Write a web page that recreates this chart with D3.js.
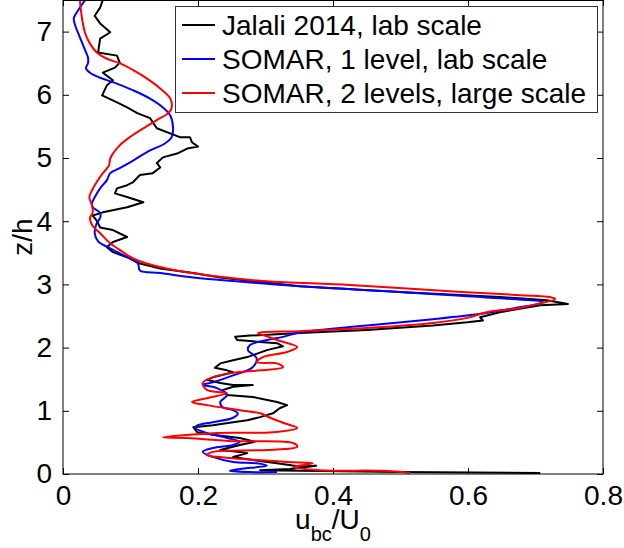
<!DOCTYPE html>
<html>
<head>
<meta charset="utf-8">
<script src="https://cdn.jsdelivr.net/npm/d3@7"></script>
<style>
  body { margin: 0; background: #fff; }
  svg text { font-family: "Liberation Sans", Arial, Helvetica, sans-serif; }
</style>
</head>
<body>
<div id="chart"></div>
<script>
// profiles as [u_bc/U0, z/h]
const jalali = [[0.059,7.50],[0.055,7.38],[0.047,7.25],[0.055,7.13],[0.070,6.99],[0.055,6.89],[0.052,6.67],[0.080,6.62],[0.084,6.51],[0.077,6.43],[0.059,6.35],[0.074,6.23],[0.065,6.15],[0.058,5.99],[0.080,5.88],[0.095,5.80],[0.110,5.71],[0.129,5.63],[0.139,5.47],[0.173,5.33],[0.188,5.33],[0.191,5.25],[0.200,5.18],[0.184,5.15],[0.169,5.07],[0.148,5.01],[0.139,4.92],[0.144,4.85],[0.133,4.76],[0.114,4.73],[0.104,4.62],[0.095,4.57],[0.080,4.52],[0.077,4.44],[0.096,4.38],[0.119,4.30],[0.095,4.22],[0.059,4.14],[0.044,4.09],[0.050,4.01],[0.055,3.90],[0.074,3.86],[0.095,3.75],[0.074,3.67],[0.065,3.59],[0.074,3.51],[0.095,3.43],[0.114,3.33],[0.144,3.25],[0.193,3.18],[0.233,3.11],[0.351,2.97],[0.499,2.88],[0.647,2.80],[0.717,2.75],[0.748,2.69],[0.707,2.67],[0.647,2.56],[0.618,2.48],[0.622,2.43],[0.599,2.40],[0.548,2.35],[0.450,2.28],[0.351,2.23],[0.277,2.19],[0.255,2.17],[0.258,2.12],[0.292,2.09],[0.317,2.07],[0.326,2.02],[0.302,1.96],[0.273,1.85],[0.252,1.80],[0.233,1.75],[0.225,1.68],[0.243,1.64],[0.252,1.61],[0.222,1.53],[0.213,1.49],[0.233,1.44],[0.252,1.41],[0.281,1.41],[0.252,1.38],[0.237,1.33],[0.243,1.25],[0.281,1.22],[0.317,1.14],[0.332,1.09],[0.321,1.04],[0.311,0.96],[0.292,0.90],[0.273,0.85],[0.252,0.82],[0.222,0.77],[0.193,0.74],[0.199,0.66],[0.222,0.62],[0.262,0.57],[0.284,0.51],[0.262,0.46],[0.233,0.38],[0.262,0.35],[0.273,0.33],[0.252,0.27],[0.281,0.22],[0.317,0.17],[0.351,0.12],[0.375,0.13],[0.336,0.08],[0.292,0.06],[0.351,0.05],[0.499,0.03],[0.707,0.015]];

const somar1 = [[0.033,7.50],[0.022,7.33],[0.016,7.21],[0.018,7.10],[0.025,6.91],[0.033,6.70],[0.037,6.59],[0.037,6.50],[0.034,6.42],[0.040,6.35],[0.055,6.27],[0.074,6.20],[0.104,6.07],[0.129,5.94],[0.148,5.80],[0.159,5.67],[0.163,5.48],[0.161,5.33],[0.151,5.23],[0.129,5.12],[0.104,4.96],[0.084,4.84],[0.070,4.76],[0.065,4.65],[0.055,4.52],[0.047,4.38],[0.043,4.28],[0.044,4.22],[0.055,4.13],[0.055,4.05],[0.050,3.97],[0.047,3.81],[0.052,3.68],[0.070,3.57],[0.095,3.43],[0.111,3.33],[0.114,3.22],[0.144,3.18],[0.193,3.11],[0.233,3.07],[0.351,2.97],[0.499,2.88],[0.647,2.78],[0.711,2.72],[0.707,2.70],[0.667,2.62],[0.622,2.54],[0.548,2.45],[0.450,2.35],[0.351,2.24],[0.326,2.17],[0.302,2.12],[0.277,2.04],[0.274,1.96],[0.287,1.83],[0.281,1.69],[0.252,1.56],[0.222,1.45],[0.207,1.41],[0.228,1.36],[0.243,1.25],[0.233,1.14],[0.236,1.06],[0.252,1.01],[0.259,0.96],[0.252,0.89],[0.222,0.82],[0.199,0.77],[0.196,0.73],[0.213,0.65],[0.243,0.57],[0.262,0.51],[0.252,0.46],[0.222,0.41],[0.207,0.35],[0.222,0.27],[0.252,0.19],[0.287,0.17],[0.302,0.13],[0.262,0.08],[0.247,0.05],[0.277,0.03],[0.317,0.03]];

const somar2 = [[0.025,7.50],[0.028,7.22],[0.033,6.97],[0.040,6.81],[0.050,6.67],[0.065,6.57],[0.084,6.50],[0.104,6.39],[0.124,6.26],[0.144,6.10],[0.159,5.94],[0.161,5.80],[0.156,5.71],[0.139,5.60],[0.119,5.47],[0.099,5.33],[0.084,5.20],[0.074,5.07],[0.070,4.99],[0.068,4.88],[0.059,4.76],[0.050,4.62],[0.043,4.49],[0.039,4.38],[0.043,4.25],[0.044,4.14],[0.040,4.05],[0.043,3.94],[0.055,3.81],[0.070,3.65],[0.089,3.51],[0.104,3.41],[0.124,3.33],[0.168,3.22],[0.233,3.12],[0.302,3.05],[0.425,2.99],[0.573,2.89],[0.677,2.83],[0.721,2.80],[0.729,2.77],[0.707,2.70],[0.673,2.62],[0.628,2.56],[0.599,2.47],[0.548,2.39],[0.450,2.31],[0.351,2.26],[0.289,2.23],[0.302,2.18],[0.317,2.12],[0.347,2.01],[0.332,1.93],[0.296,1.85],[0.287,1.77],[0.317,1.75],[0.326,1.69],[0.292,1.64],[0.252,1.60],[0.222,1.53],[0.207,1.44],[0.213,1.33],[0.243,1.28],[0.213,1.20],[0.191,1.14],[0.213,1.09],[0.262,1.01],[0.292,0.96],[0.307,0.89],[0.326,0.81],[0.347,0.73],[0.311,0.66],[0.228,0.65],[0.148,0.58],[0.184,0.57],[0.252,0.52],[0.341,0.49],[0.347,0.43],[0.302,0.38],[0.222,0.35],[0.213,0.30],[0.252,0.25],[0.332,0.19],[0.370,0.17],[0.341,0.11],[0.381,0.06],[0.474,0.05],[0.514,0.02]];

const seriesNames = ["Jalali 2014, lab scale", "SOMAR, 1 level, lab scale", "SOMAR, 2 levels, large scale"];
const seriesColors = ["#000000", "#0000ff", "#ff0000"];
const xTicks = [0, 0.2, 0.4, 0.6, 0.8];
const yTicks = [0, 1, 2, 3, 4, 5, 6, 7];

const W = 624, H = 548;
const margin = {top: 0, right: 21, bottom: 74, left: 63};
const width = W - margin.left - margin.right;   // 540
const height = H - margin.top - margin.bottom;  // 474

const svg = d3.select("#chart").append("svg")
    .attr("width", W)
    .attr("height", H);

const g = svg.append("g")
    .attr("transform", "translate(" + margin.left + "," + margin.top + ")");

const x = d3.scaleLinear().domain([0, 0.8]).range([0, width]);
const y = d3.scaleLinear().domain([0, 7.5]).range([height, 0]);

// clip the profiles to the axes box
g.append("clipPath").attr("id", "clip")
  .append("rect").attr("width", width).attr("height", height);

// axes, matlab style: ticks point inward on all four sides
const fmt = d => d === 0 ? "0" : d3.format(".1f")(d);
g.append("g")
    .attr("transform", "translate(0," + height + ")")
    .call(d3.axisBottom(x).tickValues(xTicks).tickFormat(fmt).tickSizeInner(-6).tickSizeOuter(0).tickPadding(11));
g.append("g")
    .call(d3.axisTop(x).tickValues(xTicks).tickFormat("").tickSizeInner(-6).tickSizeOuter(0));
g.append("g")
    .call(d3.axisLeft(y).tickValues(yTicks).tickSizeInner(-6).tickSizeOuter(0).tickPadding(11));
g.append("g")
    .attr("transform", "translate(" + width + ",0)")
    .call(d3.axisRight(y).tickValues(yTicks).tickFormat("").tickSizeInner(-6).tickSizeOuter(0));

g.selectAll(".tick text")
    .attr("font-size", 28)
    .attr("font-family", "Liberation Sans, Arial, sans-serif")
    .attr("fill", "#000");
g.selectAll(".domain").remove();
g.selectAll(".tick line").attr("stroke", "#000");

// the profiles: measured one jagged, simulated ones smooth
const lineSharp = d3.line()
    .x(d => x(d[0]))
    .y(d => y(d[1]));
const lineSmooth = d3.line()
    .curve(d3.curveCatmullRom.alpha(0.5))
    .x(d => x(d[0]))
    .y(d => y(d[1]));

[jalali, somar1, somar2].forEach((data, i) => {
    g.append("path")
        .datum(data)
        .attr("clip-path", "url(#clip)")
        .attr("fill", "none")
        .attr("stroke", seriesColors[i])
        .attr("stroke-width", 2)
        .attr("stroke-linejoin", "round")
        .attr("d", i === 0 ? lineSharp : lineSmooth);
});

// frame
g.append("rect")
    .attr("x", 0).attr("y", 0.5)
    .attr("width", width).attr("height", height - 0.5)
    .attr("fill", "none")
    .attr("stroke", "#000")
    .attr("stroke-width", 1);

// legend
const legend = g.append("g").attr("transform", "translate(" + (175 - margin.left) + ",6)");
legend.append("rect")
    .attr("x", 0.5).attr("y", 0.5)
    .attr("width", 422).attr("height", 106)
    .attr("fill", "#fff")
    .attr("stroke", "#333");
seriesNames.forEach((name, i) => {
    const ly = 19 + i * 34;
    legend.append("line")
        .attr("x1", 7).attr("x2", 40)
        .attr("y1", ly).attr("y2", ly)
        .attr("stroke", seriesColors[i])
        .attr("stroke-width", 2);
    legend.append("text")
        .attr("x", 47).attr("y", ly + 10)
        .attr("font-size", 28)
        .text(name);
});

// axis labels
svg.append("text")
    .attr("transform", "translate(32," + (margin.top + height / 2) + ") rotate(-90)")
    .attr("text-anchor", "middle")
    .attr("font-size", 28)
    .text("z/h");

const xl = svg.append("text")
    .attr("x", margin.left + width / 2)
    .attr("y", 529)
    .attr("text-anchor", "middle")
    .attr("font-size", 28);
xl.append("tspan").text("u");
xl.append("tspan").attr("font-size", 20).attr("dy", 12).text("bc");
xl.append("tspan").attr("dy", -12).text("/U");
xl.append("tspan").attr("font-size", 20).attr("dy", 12).text("0");
</script>
</body>
</html>
